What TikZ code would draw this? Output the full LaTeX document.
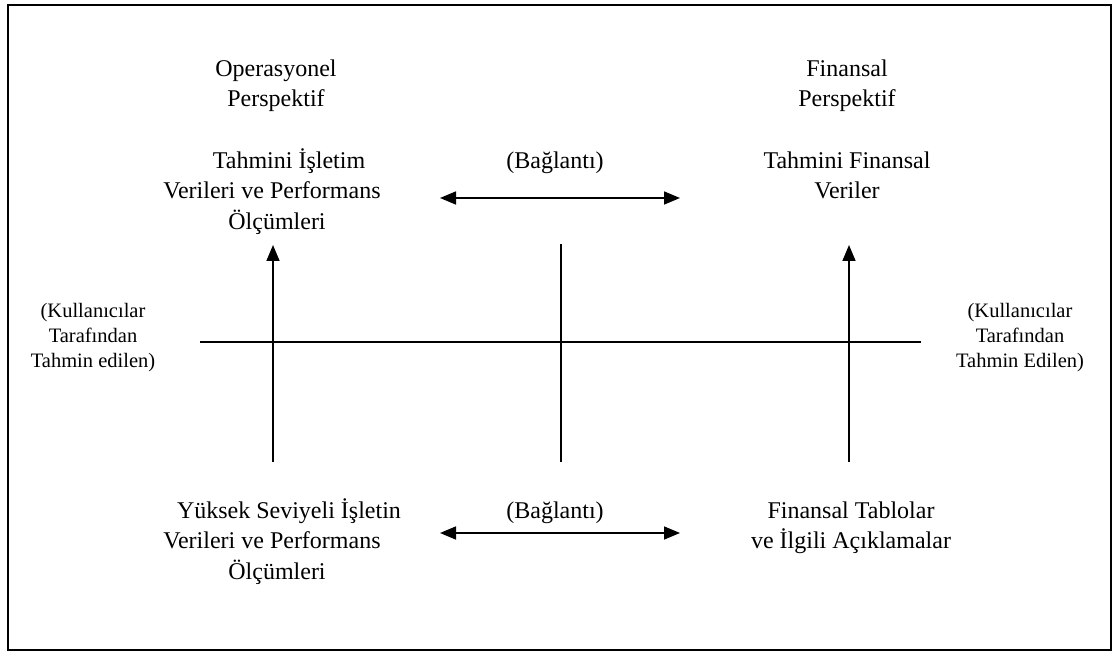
\documentclass[tikz,border=0pt]{standalone}
\usepackage{fontspec}
\setmainfont{Liberation Serif}
\usetikzlibrary{arrows.meta}
\tikzset{
  maintxt/.style={font=\fontsize{24}{30.5}\selectfont, align=center, inner sep=0pt, anchor=north},
  sidetxt/.style={font=\fontsize{20.5}{25}\selectfont, align=center, inner sep=0pt, anchor=north},
  ln/.style={line width=1.6pt},
  arr/.style={ln, -{Triangle[length=16pt,width=13pt]}},
  darr/.style={ln, {Triangle[length=16pt,width=13pt]}-{Triangle[length=16pt,width=13pt]}},
  frame/.style={line width=1.8pt}
}
\begin{document}
\begin{tikzpicture}[x=1pt,y=1pt]
\useasboundingbox (0,0) rectangle (1117,654);
\draw[frame] (8,4) rectangle (1111,649);

% top row
\node[maintxt] (opp) at (276,599.4) {\strut Operasyonel\\\strut Perspektif};
\node[maintxt] (finp) at (847,599.4) {\strut Finansal\\\strut Perspektif};
\node[maintxt] (tis) at (272,507.4) {\strut\hspace*{34pt}Tahmini İşletim\\\strut Verileri ve Performans\\\strut\hspace*{10pt}Ölçümleri};
\node[maintxt] (tfv) at (847,507.4) {\strut Tahmini Finansal\\\strut Veriler};
\node[maintxt] (bag1) at (555,507.4) {\strut (Bağlantı)};

% bottom row
\node[maintxt] (ysi) at (272,157.4) {\strut\hspace*{34pt}Yüksek Seviyeli İşletin\\\strut Verileri ve Performans\\\strut\hspace*{10pt}Ölçümleri};
\node[maintxt] (fta) at (851,157.4) {\strut Finansal Tablolar\\\strut ve İlgili Açıklamalar};
\node[maintxt] (bag2) at (555,157.4) {\strut (Bağlantı)};

% side labels
\node[sidetxt] (kl) at (93,354.5) {\strut (Kullanıcılar\\\strut Tarafından\\\strut Tahmin edilen)};
\node[sidetxt] (kr) at (1020,354.5) {\strut (Kullanıcılar\\\strut Tarafından\\\strut Tahmin Edilen)};

% coordinates
\coordinate (l1) at (440,456);
\coordinate (r1) at (680,456);
\coordinate (l2) at (440,121);
\coordinate (r2) at (680,121);
\coordinate (vlb) at (273,192);
\coordinate (vlt) at (273,409);
\coordinate (vrb) at (849,192);
\coordinate (vrt) at (849,409);
\coordinate (vmb) at (561,192);
\coordinate (vmt) at (561,410);
\coordinate (hl) at (200,312);
\coordinate (hr) at (921,312);

\draw[darr] (l1) -- (r1);
\draw[darr] (l2) -- (r2);
\draw[arr] (vlb) -- (vlt);
\draw[arr] (vrb) -- (vrt);
\draw[ln] (vmb) -- (vmt);
\draw[ln] (hl) -- (hr);
\end{tikzpicture}
\end{document}
